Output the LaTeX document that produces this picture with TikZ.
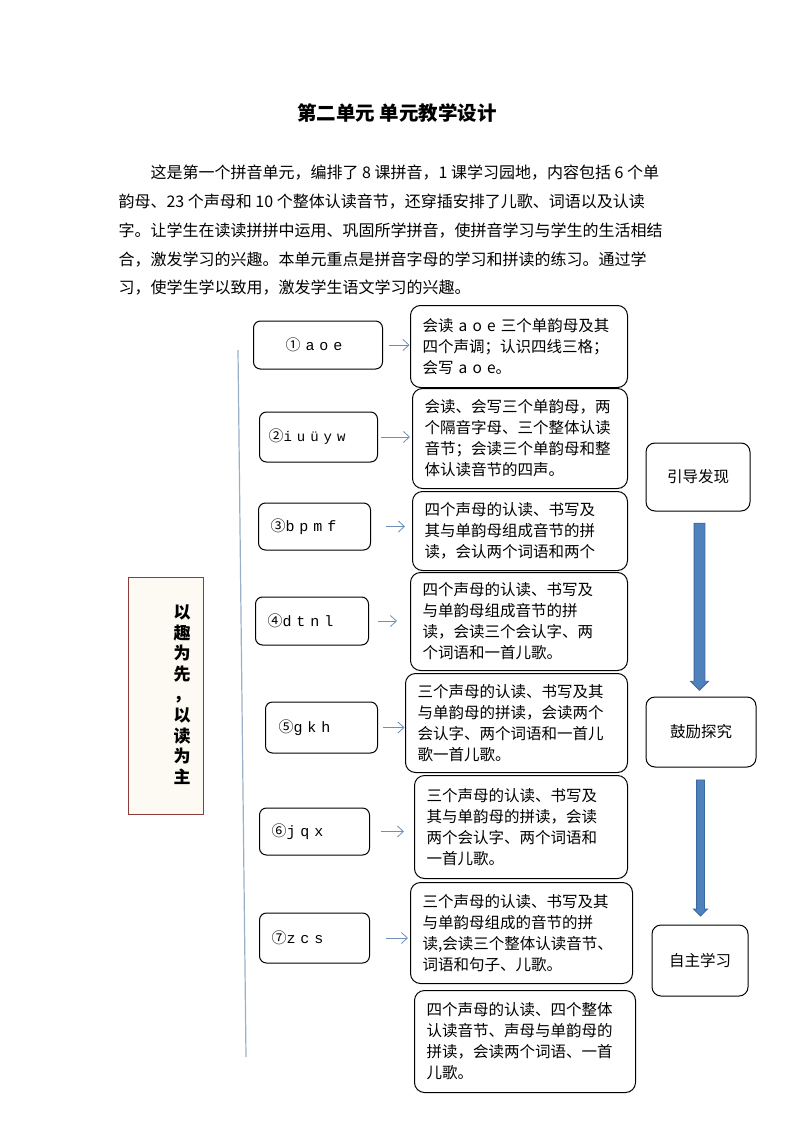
\documentclass[tikz,border=0pt]{standalone}
\usepackage{fontspec}
\setmainfont{Noto Sans CJK SC}
\newfontfamily\monof{Liberation Mono}
\usetikzlibrary{arrows.meta,shapes.arrows,calc}
\definecolor{linkblue}{HTML}{6F8FB8}
\definecolor{spineblue}{HTML}{9AB0C8}
\definecolor{arrowblue}{HTML}{4F81BD}
\definecolor{arrowedge}{HTML}{3A68A0}
\definecolor{boxred}{HTML}{8C3B3B}
\definecolor{boxcream}{HTML}{FDFAF3}

\begin{document}
\begin{tikzpicture}%
[x=1pt,y=-1pt,line width=1pt,%
letterbox/.style={draw, rounded corners=7pt, anchor=west, align=left, font=\fontsize{15}{16}\selectfont},%
descbox/.style={draw, rounded corners=10pt, anchor=north west, align=left, inner xsep=12pt, font=\fontsize{15.5}{21}\selectfont},%
stagebox/.style={draw, rounded corners=9pt, font=\fontsize{15.5}{18}\selectfont},%
link/.style={draw=linkblue, line width=0.8pt, -{Straight Barb[length=6pt,width=11pt]}},%
bigarrow/.style={single arrow, draw=arrowedge, fill=arrowblue, line width=0.8pt, rotate=-90, inner xsep=0pt}]
\fill[white] (0,0) rectangle (794,1123);
% title and introduction
\node[font=\fontsize{19.5}{22}\selectfont\bfseries] (title) at (397,113) {第二单元 单元教学设计};
\node[anchor=west, align=left, inner sep=0pt, font=\fontsize{16}{28.75}\selectfont] (intro) at (118,230.5)
  {\hspace*{32pt}这是第一个拼音单元，编排了 8 课拼音，1 课学习园地，内容包括 6 个单\\
   韵母、23 个声母和 10 个整体认读音节，还穿插安排了儿歌、词语以及认读\\
   字。让学生在读读拼拼中运用、巩固所学拼音，使拼音学习与学生的生活相结\\
   合，激发学习的兴趣。本单元重点是拼音字母的学习和拼读的练习。通过学\\
   习，使学生学以致用，激发学生语文学习的兴趣。};
% theme and spine
\node[draw=boxred, fill=boxcream, minimum width=75, minimum height=237, inner sep=0pt] (theme) at (165.5,695.5) {};
\node[align=center, font=\fontsize{17}{20.6}\selectfont\bfseries] (themetext) at (182,694.5) {以\\趣\\为\\先\\，\\以\\读\\为\\主};
\draw[spineblue, line width=1.2pt] (238,350) -- (246,1057);
% letters
\node[letterbox, minimum height=48, inner xsep=32, text width=65] (l1) at (253,345) {①{\monof\ a o e}};
\node[letterbox, minimum height=50, inner xsep=9, text width=100] (l2) at (259,437) {②{\monof\fontsize{14}{16}\selectfont i u ü y w}};
\node[letterbox, minimum height=47, inner xsep=12, text width=88] (l3) at (258,526.5) {③{\monof b p m f}};
\node[letterbox, minimum height=48, inner xsep=12, text width=89] (l4) at (255,621) {④{\monof d t n l}};
\node[letterbox, minimum height=51, inner xsep=13, text width=86] (l5) at (265,727.5) {⑤{\monof g k h}};
\node[letterbox, minimum height=47, inner xsep=12, text width=86] (l6) at (259,831.5) {⑥{\monof j q x}};
\node[letterbox, minimum height=50, inner xsep=12, text width=86] (l7) at (259,938) {⑦{\monof z c s}};
% goals
\node[descbox, minimum height=82, text width=193] (d1) at (410,305) {会读~a~o~e~三个单韵母及其\\四个声调；认识四线三格；\\会写~a~o~e。};
\node[descbox, minimum height=100, text width=191] (d2) at (412,388) {会读、会写三个单韵母，两\\个隔音字母、三个整体认读\\音节；会读三个单韵母和整\\体认读音节的四声。};
\node[descbox, minimum height=79, text width=191] (d3) at (412,491) {四个声母的认读、书写及\\其与单韵母组成音节的拼\\读，会认两个词语和两个};
\node[descbox, minimum height=98, text width=193] (d4) at (410,572) {四个声母的认读、书写及\\与单韵母组成音节的拼\\读，会读三个会认字、两\\个词语和一首儿歌。};
\node[descbox, minimum height=99, text width=198] (d5) at (405,673) {三个声母的认读、书写及其\\与单韵母的拼读，会读两个\\会认字、两个词语和一首儿\\歌一首儿歌。};
\node[descbox, minimum height=103, text width=189] (d6) at (414,775) {三个声母的认读、书写及\\其与单韵母的拼读，会读\\两个会认字、两个词语和\\一首儿歌。};
\node[descbox, minimum height=101, text width=198] (d7) at (410,882) {三个声母的认读、书写及其\\与单韵母组成的音节的拼\\读,会读三个整体认读音节、\\词语和句子、儿歌。};
\node[descbox, minimum height=102, text width=197] (d8) at (414,990) {四个声母的认读、四个整体\\认读音节、声母与单韵母的\\拼读，会读两个词语、一首\\儿歌。};
\draw[link, shorten <=6pt, shorten >=0.5pt] (l1.east) -- (l1.east -| d1.west);
\draw[link, shorten <=3pt, shorten >=2pt] (l2.east) -- (l2.east -| d2.west);
\draw[link, shorten <=15pt, shorten >=7pt] (l3.east) -- (l3.east -| d3.west);
\draw[link, shorten <=9pt, shorten >=13pt] (l4.east) -- (l4.east -| d4.west);
\draw[link, shorten <=5pt, shorten >=0.5pt] (l5.east) -- (l5.east -| d5.west);
\draw[link, shorten <=11pt, shorten >=10pt] (l6.east) -- (l6.east -| d6.west);
\draw[link, shorten <=16pt, shorten >=2pt] (l7.east) -- (l7.east -| d7.west);
% stages
\node[stagebox, minimum width=104, minimum height=68] (s1) at (698,477) {引导发现};
\node[stagebox, minimum width=110, minimum height=70] (s2) at (701,732) {鼓励探究};
\node[stagebox, minimum width=96, minimum height=71] (s3) at (700,960.5) {自主学习};
\node[bigarrow, minimum height=167, inner ysep=5pt, single arrow head extend=3.5pt] (ar1) at ($(s1.south)!0.5!(s2.north)$) {};
\node[bigarrow, minimum height=136, inner ysep=3.5pt, single arrow head extend=3pt] (ar2) at ($(s2.south)!0.5!(s3.north)$) {};
\end{tikzpicture}
\end{document}
